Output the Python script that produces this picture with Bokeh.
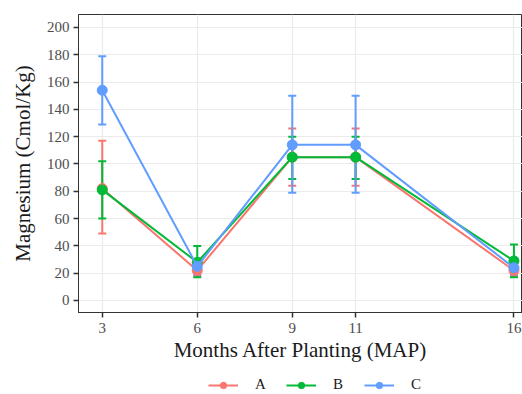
from bokeh.plotting import figure
from bokeh.layouts import column
from bokeh.models import (ColumnDataSource, Whisker, TeeHead, FixedTicker, Legend,
                          LegendItem, Range1d)
from bokeh.embed import file_html
from bokeh.resources import INLINE

months = [3, 6, 9, 11, 16]
tick_months = [3, 6, 9, 11, 16]
y_ticks = list(range(0, 201, 20))

a_mean = [82, 22, 105, 105, 22]
a_low = [49, 18, 84, 84, 18]
a_high = [117, 27, 126, 126, 27]

b_mean = [81, 28, 105, 105, 29]
b_low = [60, 17, 89, 89, 17]
b_high = [102, 40, 120, 120, 41]

c_mean = [154, 25, 114, 114, 24]
c_low = [129, 19, 79, 79, 19]
c_high = [179, 30, 150, 150, 29]

groups = ["A", "B", "C"]
colors = ["#F8766D", "#00BA38", "#619CFF"]
FONT = "Liberation Serif"

p = figure(width=522, height=368, output_backend="svg", toolbar_location=None,
           x_range=Range1d(2.25, 16.27), y_range=Range1d(-8.8, 209.5),
           min_border_left=78, min_border_top=14, min_border_right=0,
           min_border_bottom=56, background_fill_color="white",
           border_fill_color="white")

p.outline_line_color = "#333333"
p.outline_line_width = 1

p.xaxis.ticker = FixedTicker(ticks=tick_months)
p.yaxis.ticker = FixedTicker(ticks=y_ticks)
p.xgrid.grid_line_color = "#EBEBEB"
p.ygrid.grid_line_color = "#EBEBEB"
p.xgrid.grid_line_width = 1.2
p.ygrid.grid_line_width = 1.2

for ax in (p.xaxis[0], p.yaxis[0]):
    ax.axis_line_color = "#333333"
    ax.major_tick_line_color = "#333333"
    ax.major_tick_line_width = 1.5
    ax.major_tick_out = 5
    ax.major_tick_in = 0
    ax.minor_tick_line_color = None
    ax.major_label_text_font = FONT
    ax.major_label_text_font_size = "15px"
    ax.major_label_text_color = "#4D4D4D"
    ax.axis_label_text_font = FONT
    ax.axis_label_text_font_size = "21px"
    ax.axis_label_text_font_style = "normal"
    ax.axis_label_text_color = "#1A1A1A"

p.xaxis.axis_label = "Months After Planting (MAP)"
p.yaxis.axis_label = "Magnesium (Cmol/Kg)"
p.xaxis.major_label_standoff = 5
p.yaxis.major_label_standoff = 4
p.xaxis.axis_label_standoff = 2
p.yaxis.axis_label_standoff = 9

means = [a_mean, b_mean, c_mean]
lows = [a_low, b_low, c_low]
highs = [a_high, b_high, c_high]

for g, col, m, lo, hi in zip(groups, colors, means, lows, highs):
    src = ColumnDataSource(dict(x=months, y=m, lower=lo, upper=hi))
    w = Whisker(source=src, base="x", upper="upper", lower="lower",
                dimension="height", line_color=col, line_width=2,
                upper_head=TeeHead(size=8, line_color=col, line_width=2),
                lower_head=TeeHead(size=8, line_color=col, line_width=2))
    p.add_layout(w)
    p.line("x", "y", source=src, line_color=col, line_width=2)
    p.scatter("x", "y", source=src, size=10, fill_color=col, line_color=col)

# legend strip below the plot (its renderers hold no visible data)
lg = figure(width=522, height=26, output_backend="svg", toolbar_location=None,
            x_range=Range1d(0, 1), y_range=Range1d(0, 1),
            x_axis_location=None, y_axis_location=None,
            min_border=0, min_border_left=0, min_border_right=0,
            min_border_top=0, min_border_bottom=0,
            outline_line_color=None, background_fill_color="white",
            border_fill_color="white")
lg.xgrid.visible = False
lg.ygrid.visible = False

nan = float("nan")
items = []
for g, col in zip(groups, colors):
    empty = ColumnDataSource(dict(x=[nan], y=[nan]))
    ln = lg.line("x", "y", source=empty, line_color=col, line_width=2)
    sc = lg.scatter("x", "y", source=empty, size=10, fill_color=col, line_color=col)
    items.append(LegendItem(label=g, renderers=[ln, sc]))

legend = Legend(items=items, orientation="horizontal", location=(130, 1),
                label_text_font=FONT, label_text_font_size="15px",
                label_text_color="#1A1A1A", glyph_width=30, glyph_height=16,
                label_standoff=17, label_width=12, spacing=19, padding=0, margin=0,
                border_line_color=None, background_fill_alpha=0)
lg.add_layout(legend)

layout = column(p, lg, spacing=0)
open("out.html", "w").write(file_html(layout, INLINE))
